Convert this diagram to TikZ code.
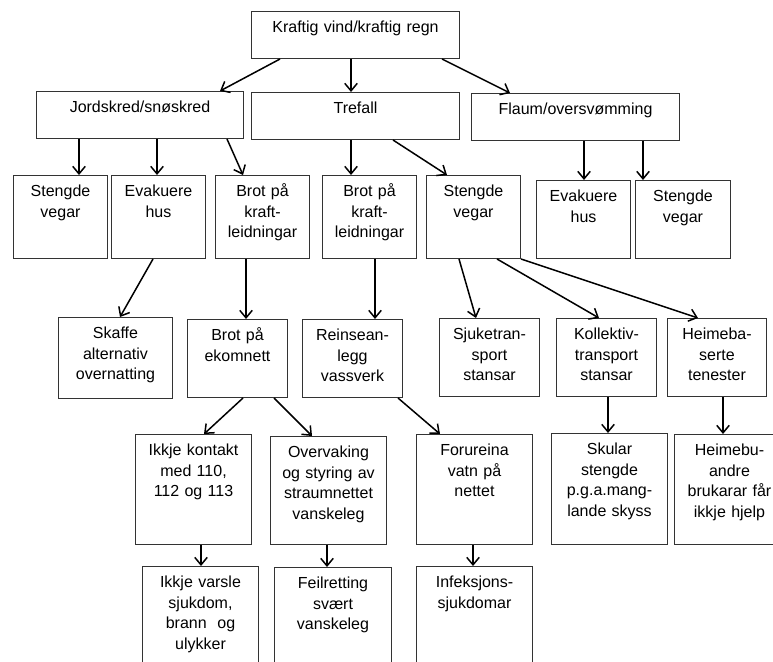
\documentclass[tikz,border=0pt]{standalone}
\usepackage{fontspec}
\setmainfont{Liberation Sans}
\usepackage{tikz}
\usetikzlibrary{positioning,arrows.meta}

\begin{document}
\begin{tikzpicture}[x=1pt, y=-1pt,
        >={Straight Barb[length=7.5pt, width=12.5pt]},
        box/.style={draw=black!80, line width=1pt, inner sep=0pt, align=center,
            anchor=north west, text height=21pt, font=\fontsize{16}{20.5}\selectfont},
        wide/.style={box, text width=208pt, text depth=26pt},
        cell/.style={box, text width=94pt, text depth=62pt},
        mid/.style={box, text width=100pt, text depth=57pt},
        tall/.style={box, text width=116pt, text depth=89pt},
        low/.style={box, text width=116pt, text depth=120pt},
        arr/.style={->, line width=1.5pt}]
        \useasboundingbox (0,0) rectangle (773,661);
        \clip (0,0) rectangle (773,661);

        % top event
        \node[wide] (vind) at (251,11) {Kraftig vind/kraftig regn};

        % first consequences
        \node[wide, text width=207pt] (skred) at (36,91) {Jordskred/snøskred};
        \node[wide] (tre) at (251,92) {Trefall};
        \node[wide] (flaum) at (471,93) {Flaum/oversvømming};

        \draw[arr] ([xshift=29pt]vind.south west) -- ([xshift=184pt]skred.north west);
        \draw[arr] ([xshift=100pt]vind.south west) -- ([xshift=100pt]tre.north west);
        \draw[arr] ([xshift=191pt]vind.south west) -- ([xshift=39pt]flaum.north west);

        % second row
        \node[cell] (veg1) at (13,175) {Stengde\\vegar};
        \node[cell] (hus1) at (111,175) {Evakuere\\hus};
        \node[cell] (kraft1) at (215,175) {Brot på\\kraft-\\leidningar};
        \node[cell] (kraft2) at (322,175) {Brot på\\kraft-\\leidningar};
        \node[cell] (veg2) at (426,175) {Stengde\\vegar};
        \node[cell, text depth=57pt] (hus2) at (536,180) {Evakuere\\hus};
        \node[cell, text depth=57pt, text width=95pt] (veg3) at (635,180) {Stengde\\vegar};

        \draw[arr] ([xshift=43pt]skred.south west) -- ([xshift=66pt]veg1.north west);
        \draw[arr] ([xshift=121pt]skred.south west) -- ([xshift=46pt]hus1.north west);
        \draw[arr] ([xshift=191pt]skred.south west) -- ([xshift=28pt]kraft1.north west);
        \draw[arr] ([xshift=100pt]tre.south west) -- ([xshift=29pt]kraft2.north west);
        \draw[arr] ([xshift=142pt]tre.south west) -- ([xshift=21pt]veg2.north west);
        \draw[arr] ([xshift=113pt]flaum.south west) -- ([xshift=48pt]hus2.north west);
        \draw[arr] ([xshift=172pt]flaum.south west) -- ([xshift=8pt]veg3.north west);

        % third row
        \node[mid, text width=114pt, text depth=60pt] (natt) at (58,317) {Skaffe\\alternativ\\overnatting};
        \node[mid] (ekom) at (187,319) {Brot på\\ekomnett};
        \node[mid] (reins) at (302,319) {Reinsean-\\legg\\vassverk};
        \node[mid] (sjuke) at (439,318) {Sjuketran-\\sport\\stansar};
        \node[mid] (koll) at (556,318) {Kollektiv-\\transport\\stansar};
        \node[mid, text width=99pt] (heime) at (667,318) {Heimeba-\\serte\\tenester};

        \draw[arr] ([xshift=42pt]hus1.south west) -- ([xshift=62pt]natt.north west);
        \draw[arr] ([xshift=31pt]kraft1.south west) -- ([xshift=59pt]ekom.north west);
        \draw[arr] ([xshift=53pt]kraft2.south west) -- ([xshift=73pt]reins.north west);
        \draw[arr] ([xshift=33pt]veg2.south west) -- ([xshift=37pt]sjuke.north west);
        \draw[arr] ([xshift=71pt]veg2.south west) -- ([xshift=43pt]koll.north west);
        \draw[arr] (veg2.south east) -- ([xshift=31pt]heime.north west);

        % fourth row
        \node[tall] (kontakt) at (135,434) {Ikkje kontakt\\med 110,\\112 og 113};
        \node[tall, text depth=87pt] (styring) at (270,436) {Overvaking\\og styring av\\straumnettet\\vanskeleg};
        \node[tall] (vatn) at (416,434) {Forureina\\vatn på\\nettet};
        \node[tall, text depth=90pt] (skule) at (551,433) {Skular\\stengde\\p.g.a.mang-\\lande skyss};
        \node[tall, text width=110pt] (hjelp) at (674,434) {Heimebu-\\andre\\brukarar får\\ikkje hjelp};

        \draw[arr] ([xshift=56pt]ekom.south west) -- ([xshift=69pt]kontakt.north west);
        \draw[arr] ([xshift=87pt]ekom.south west) -- ([xshift=42pt]styring.north west);
        \draw[arr] ([xshift=96pt]reins.south west) -- ([xshift=24pt]vatn.north west);
        \draw[arr] ([xshift=52pt]koll.south west) -- ([xshift=57pt]skule.north west);
        \draw[arr] ([xshift=56pt]heime.south west) -- ([xshift=49pt]hjelp.north west);

        % fifth row
        \node[low] (varsle) at (142,566) {Ikkje varsle\\sjukdom,\\brann\ \ og\\ulykker};
        \node[low, text width=117pt] (feil) at (274,567) {Feilretting\\svært\\vanskeleg};
        \node[low] (infek) at (416,566) {Infeksjons-\\sjukdomar};

        \draw[arr] ([xshift=66pt]kontakt.south west) -- ([xshift=59pt]varsle.north west);
        \draw[arr] ([xshift=57pt]styring.south west) -- ([xshift=53pt]feil.north west);
        \draw[arr] ([xshift=57pt]vatn.south west) -- ([xshift=57pt]infek.north west);
\end{tikzpicture}
\end{document}
